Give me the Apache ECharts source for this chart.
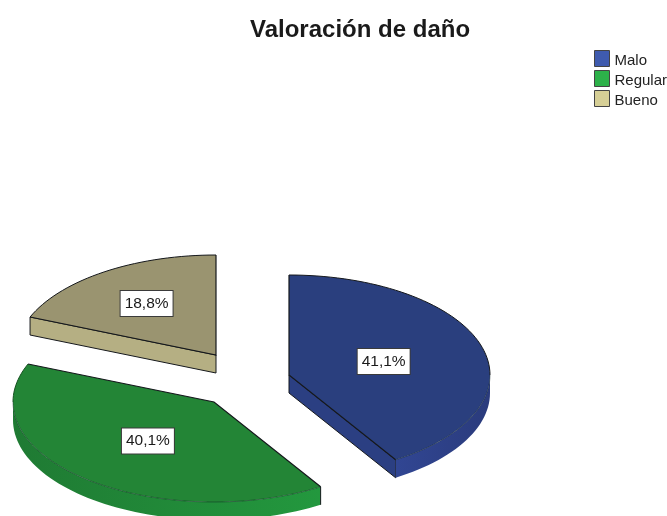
<!DOCTYPE html>
<html>
<head>
<meta charset="utf-8">
<style>
  html, body { margin: 0; padding: 0; background: #fff; }
  #chart { width: 667px; height: 516px; }
</style>
<script src="https://cdn.jsdelivr.net/npm/echarts@6/dist/echarts.min.js"></script>
</head>
<body>
<div id="chart"></div>
<script>
const categories = ['Malo', 'Regular', 'Bueno'];
const percents = [41.1, 40.1, 18.8];

// colores y posicion de cada porcion
const topColors = ['#2a3f7e', '#238536', '#9a9470'];
const wallColors = ['#2b3f82', '#238a39', '#b5af83'];
const rimLeft = ['#314693', '#1f7a33', '#b5af83'];
const rimRight = ['#2a3b7c', '#23983e', '#b5af83'];
const legendColors = ['#3f5bae', '#2db14a', '#d6cf96'];
const apexes = [[289, 375], [214, 402], [216, 355]];
const labelPos = [0.49, 0.51, 0.62];

const rx = 201, ry = 100, depth = 18;
const edge = '#15181c';

const total = percents.reduce((a, b) => a + b, 0);

function arc(ax, ay, from, to, dy) {
  const pts = [];
  const steps = Math.max(2, Math.ceil((to - from) / 2));
  for (let i = 0; i <= steps; i++) {
    const a = (from + (to - from) * i / steps) * Math.PI / 180;
    pts.push([ax + rx * Math.sin(a), ay - ry * Math.cos(a) + (dy || 0)]);
  }
  return pts;
}

function renderSlice(sid) {
  return function (params, api) {
    const value = api.value(0);
    let before = 0;
    for (let i = 0; i < sid; i++) before += percents[i];
    const start = before / total * 360;
    const end = start + value / total * 360;
    const [ax, ay] = apexes[sid];
    const children = [];

    // pared recta (solo si mira hacia abajo)
    [[start, start > 180 && start < 360], [end, end > 0 && end < 180]].forEach(([a, visible]) => {
      if (!visible) return;
      const rim = arc(ax, ay, a, a)[0];
      children.push({
        type: 'polygon',
        shape: { points: [[ax, ay], rim, [rim[0], rim[1] + depth], [ax, ay + depth]] },
        style: { fill: wallColors[sid], stroke: edge, lineWidth: 1 }
      });
    });

    // pared curva, la parte delantera del borde
    const frontFrom = Math.max(start, 90), frontTo = Math.min(end, 270);
    if (frontTo > frontFrom) {
      const upper = arc(ax, ay, frontFrom, frontTo);
      const lower = arc(ax, ay, frontFrom, frontTo, depth).reverse();
      children.push({
        type: 'polygon',
        shape: { points: upper.concat(lower) },
        style: {
          fill: new echarts.graphic.LinearGradient(0, 0, 1, 0, [
            { offset: 0, color: rimLeft[sid] },
            { offset: 1, color: rimRight[sid] }
          ])
        }
      });
      if (frontFrom === start) {
        children.push({
          type: 'line',
          shape: { x1: upper[0][0], y1: upper[0][1], x2: upper[0][0], y2: upper[0][1] + depth },
          style: { stroke: edge, lineWidth: 1 }
        });
      }
    }

    // cara superior
    const rimPts = arc(ax, ay, start, end);
    children.push({
      type: 'polygon',
      shape: { points: [[ax, ay]].concat(rimPts) },
      style: { fill: topColors[sid] }
    });
    children.push({
      type: 'polyline',
      shape: { points: [rimPts[0], [ax, ay], rimPts[rimPts.length - 1]] },
      style: { fill: null, stroke: edge, lineWidth: 1.2 }
    });
    // borde trasero negro, delantero apenas marcado
    if (start < 90) {
      children.push({
        type: 'polyline',
        shape: { points: arc(ax, ay, start, Math.min(end, 90)) },
        style: { fill: null, stroke: edge, lineWidth: 1 }
      });
    }
    if (end > 270) {
      children.push({
        type: 'polyline',
        shape: { points: arc(ax, ay, Math.max(start, 270), end) },
        style: { fill: null, stroke: sid === 1 ? '#14501f' : edge, lineWidth: 1 }
      });
    }
    if (frontTo > frontFrom) {
      children.push({
        type: 'polyline',
        shape: { points: arc(ax, ay, frontFrom, frontTo) },
        style: { fill: null, stroke: 'rgba(10,30,30,0.55)', lineWidth: 0.8 }
      });
    }

    // etiqueta de porcentaje
    const mid = (start + end) / 2 * Math.PI / 180;
    children.push({
      type: 'text',
      x: ax + rx * labelPos[sid] * Math.sin(mid),
      y: ay - ry * labelPos[sid] * Math.cos(mid),
      style: {
        text: value.toFixed(1).replace('.', ',') + '%',
        font: '15.5px "Liberation Sans", Arial, sans-serif',
        fill: '#1a1a1a',
        align: 'center',
        verticalAlign: 'middle',
        backgroundColor: '#fff',
        borderColor: '#3a3a3a',
        borderWidth: 1,
        padding: [5, 4, 4, 4]
      }
    });

    return { type: 'group', children };
  };
}

const chart = echarts.init(document.getElementById('chart'));
chart.setOption({
  animation: false,
  title: {
    text: 'Valoración de daño',
    left: 245,
    top: 13,
    textStyle: {
      fontFamily: '"Liberation Sans", Arial, sans-serif',
      fontSize: 24,
      fontWeight: 'bold',
      color: '#1a1a1a'
    }
  },
  legend: {
    orient: 'vertical',
    left: 594,
    top: 50,
    padding: 0,
    itemWidth: 15,
    itemHeight: 16,
    itemGap: 2,
    selectedMode: false,
    formatter: '{t|{name}}',
    textStyle: {
      rich: {
        t: {
          fontFamily: '"Liberation Sans", Arial, sans-serif',
          fontSize: 15,
          color: '#222',
          padding: [4, 0, 0, 0]
        }
      }
    },
    data: categories.map((name, i) => ({
      name,
      icon: 'rect',
      itemStyle: { color: legendColors[i], borderColor: '#444', borderWidth: 1 }
    }))
  },
  series: categories.map((name, sid) => ({
    name,
    type: 'custom',
    coordinateSystem: 'none',
    silent: true,
    clip: false,
    itemStyle: { color: legendColors[sid] },
    renderItem: renderSlice(sid),
    data: [[percents[sid]]]
  }))
});
</script>
</body>
</html>
